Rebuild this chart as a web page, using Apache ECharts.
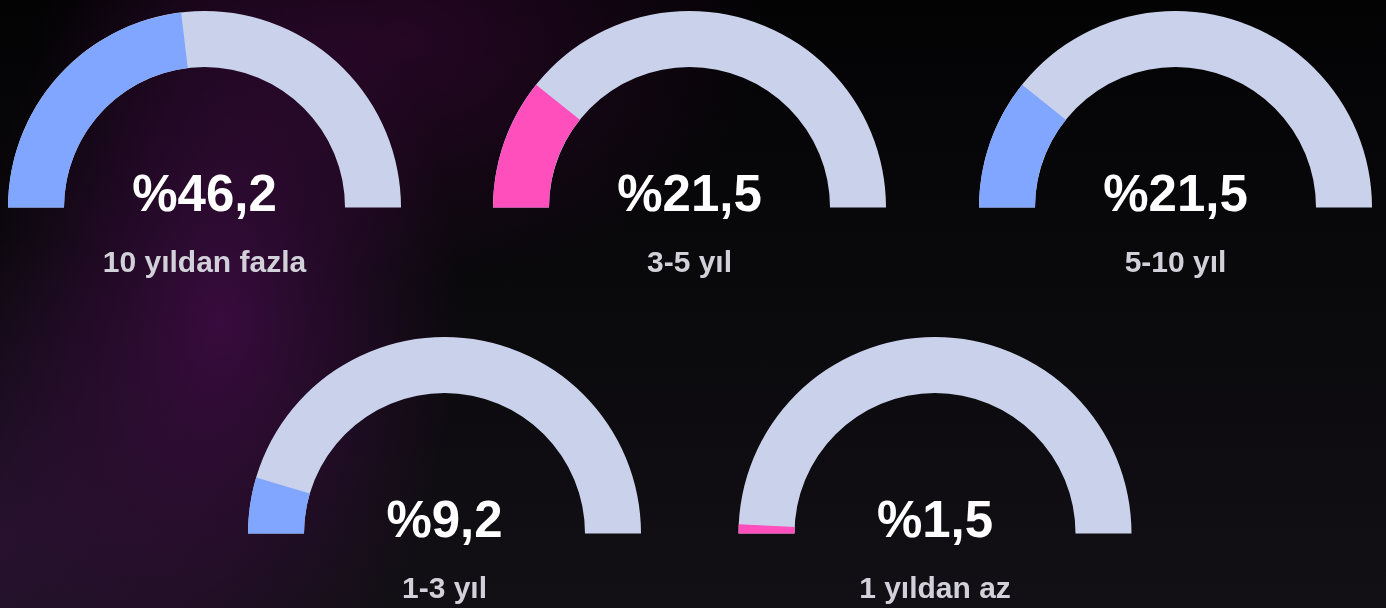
<!DOCTYPE html>
<html>
<head>
<meta charset="utf-8">
<script src="https://cdn.jsdelivr.net/npm/echarts@6/dist/echarts.min.js"></script>
<style>
html,body{margin:0;padding:0;width:1386px;height:608px;overflow:hidden;}
body{
  background:
    radial-gradient(ellipse 240px 400px at 220px 320px, rgba(64,12,70,0.85), rgba(64,12,70,0) 100%),
    radial-gradient(ellipse 360px 240px at 400px 40px, rgba(52,8,50,0.7), rgba(52,8,50,0) 100%),
    radial-gradient(ellipse 280px 300px at 0px 540px, rgba(52,18,62,0.65), rgba(52,18,62,0) 100%),
    linear-gradient(180deg, #030304 0%, #0a090c 50%, #121015 100%);
}
#chart{width:1386px;height:608px;}
</style>
</head>
<body>
<div id="chart"></div>
<script>
const categories = ['10 yıldan fazla', '3-5 yıl', '5-10 yıl', '1-3 yıl', '1 yıldan az'];
const values = [46.2, 21.5, 21.5, 9.2, 1.5];

const fillColors = ['#80a6ff', '#ff4fbd', '#80a6ff', '#80a6ff', '#ff4fbd'];
const trackColor = '#cad2eb';
const centers = [[204.5, 207.5], [689.5, 207.5], [1175.5, 207.5], [444.5, 533.5], [935, 533.5]];

const chart = echarts.init(document.getElementById('chart'), null, {renderer: 'canvas'});
const series = categories.map((name, i) => ({
  type: 'gauge',
  center: centers[i],
  radius: 196.5,
  startAngle: 180,
  endAngle: 0,
  min: 0,
  max: 100,
  pointer: {show: false},
  anchor: {show: false},
  axisTick: {show: false},
  splitLine: {show: false},
  axisLabel: {show: false},
  progress: {show: true, width: 56, roundCap: false, itemStyle: {color: fillColors[i]}},
  axisLine: {roundCap: false, lineStyle: {width: 56, color: [[1, trackColor]]}},
  title: {
    show: true,
    offsetCenter: [0, 56],
    fontSize: 30,
    fontWeight: 'bold',
    color: '#d2d1da',
    fontFamily: 'Liberation Sans, Arial, sans-serif'
  },
  detail: {
    show: true,
    offsetCenter: [0, -11],
    fontSize: 51,
    fontWeight: 'bold',
    color: '#ffffff',
    fontFamily: 'Liberation Sans, Arial, sans-serif',
    formatter: v => '%' + v.toFixed(1).replace('.', ',')
  },
  data: [{value: values[i], name: name}]
}));

chart.setOption({
  backgroundColor: 'transparent',
  animation: false,
  series: series
});
</script>
</body>
</html>
